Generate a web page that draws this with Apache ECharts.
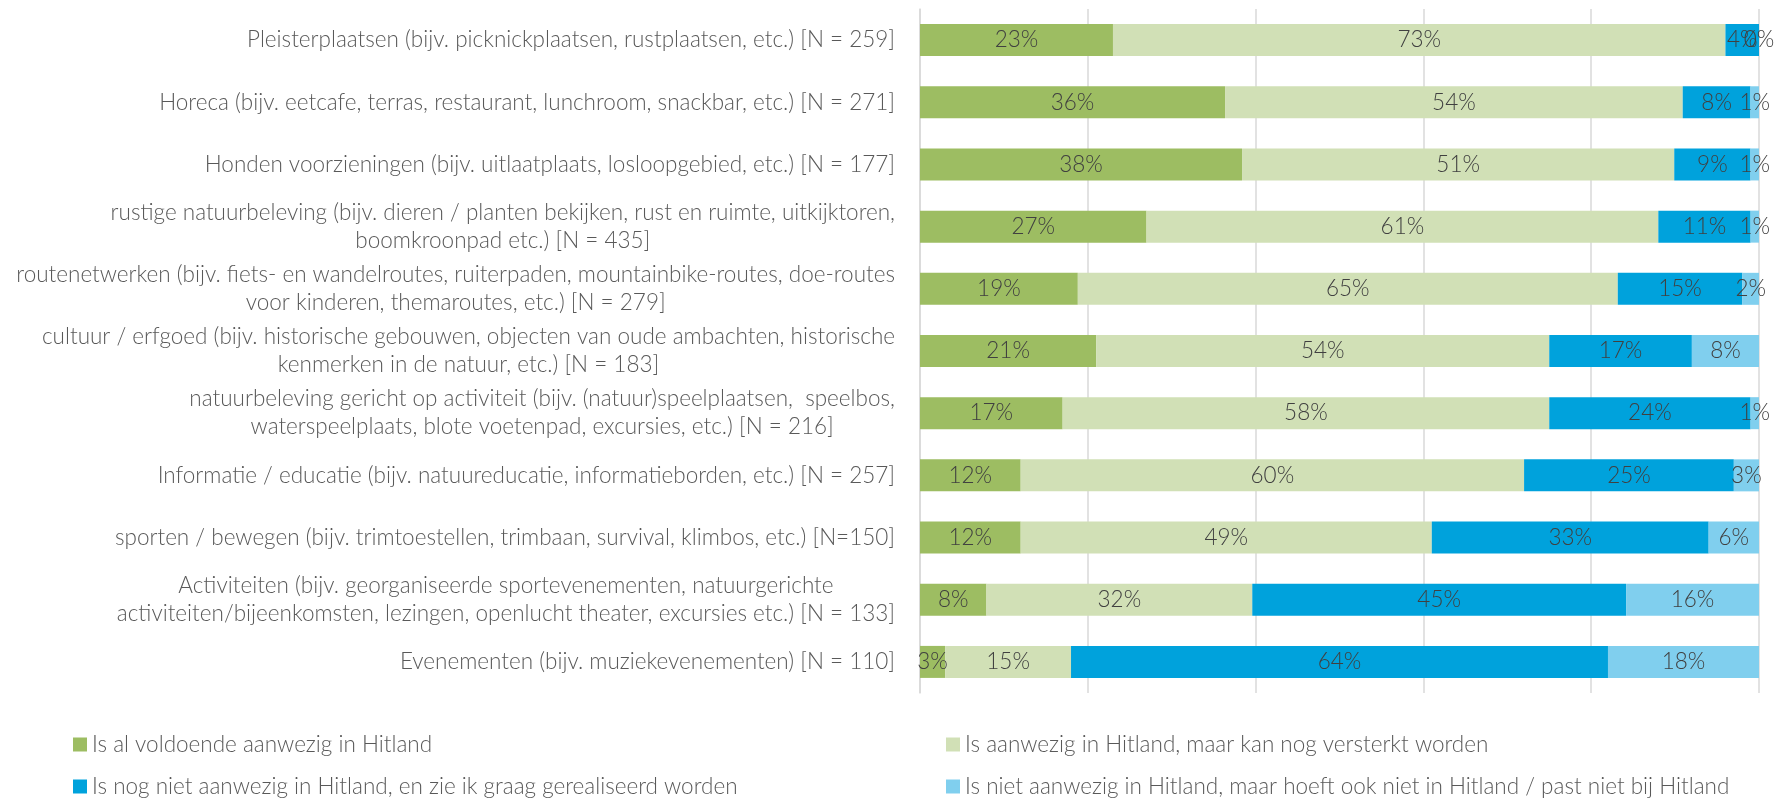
<!DOCTYPE html>
<html>
<head>
<meta charset="utf-8">
<script src="https://cdn.jsdelivr.net/npm/echarts@6/dist/echarts.min.js"></script>
<style>
  html, body { margin: 0; padding: 0; background: #fff; }
  #chart { width: 1776px; height: 800px; }
</style>
</head>
<body>
<div id="chart"></div>
<script>
const categories = [
    'Pleisterplaatsen (bijv. picknickplaatsen, rustplaatsen, etc.) [N = 259]',
    'Horeca (bijv. eetcafe, terras, restaurant, lunchroom, snackbar, etc.) [N = 271]',
    'Honden voorzieningen (bijv. uitlaatplaats, losloopgebied, etc.) [N = 177]',
    'rustige natuurbeleving (bijv. dieren / planten bekijken, rust en ruimte, uitkijktoren,\nboomkroonpad etc.) [N = 435]',
    'routenetwerken (bijv. fiets- en wandelroutes, ruiterpaden, mountainbike-routes, doe-routes\nvoor kinderen, themaroutes, etc.) [N = 279]',
    'cultuur / erfgoed (bijv. historische gebouwen, objecten van oude ambachten, historische\nkenmerken in de natuur, etc.) [N = 183]',
    'natuurbeleving gericht op activiteit (bijv. (natuur)speelplaatsen,  speelbos,\nwaterspeelplaats, blote voetenpad, excursies, etc.) [N = 216]',
    'Informatie / educatie (bijv. natuureducatie, informatieborden, etc.) [N = 257]',
    'sporten / bewegen (bijv. trimtoestellen, trimbaan, survival, klimbos, etc.) [N=150]',
    'Activiteiten (bijv. georganiseerde sportevenementen, natuurgerichte\nactiviteiten/bijeenkomsten, lezingen, openlucht theater, excursies etc.) [N = 133]',
    'Evenementen (bijv. muziekevenementen) [N = 110]'
];

const seriesNames = [
    'Is al voldoende aanwezig in Hitland',
    'Is aanwezig in Hitland, maar kan nog versterkt worden',
    'Is nog niet aanwezig in Hitland, en zie ik graag gerealiseerd worden',
    'Is niet aanwezig in Hitland, maar hoeft ook niet in Hitland / past niet bij Hitland'
];

// percentages as printed on the bars
const voldoende = [23, 36, 38, 27, 19, 21, 17, 12, 12, 8, 3];
const versterken = [73, 54, 51, 61, 65, 54, 58, 60, 49, 32, 15];
const graagGerealiseerd = [4, 8, 9, 11, 15, 17, 24, 25, 33, 45, 64];
const nietNodig = [0, 1, 1, 1, 2, 8, 1, 3, 6, 16, 18];

const colors = ['#9DBD62', '#D1E0B6', '#00A2DC', '#80CFEE'];

const raw = [voldoende, versterken, graagGerealiseerd, nietNodig];
// 100% stacked, like the original spreadsheet chart
const rowTotals = categories.map((c, i) => raw.reduce((s, arr) => s + arr[i], 0));

const FONT = 'Lato';
const FS = 22.5;

const chart = echarts.init(document.getElementById('chart'));

const series = raw.map((arr, si) => ({
    type: 'bar',
    name: seriesNames[si],
    stack: 'total',
    barWidth: 32,
    data: arr.map((v, i) => v / rowTotals[i] * 100),
    itemStyle: { color: colors[si] },
    label: {
        show: true,
        position: 'inside',
        color: '#404040',
        fontFamily: FONT,
        fontWeight: 300,
        fontSize: FS,
        formatter: p => raw[p.seriesIndex][p.dataIndex] + '%'
    },
    emphasis: { disabled: true }
}));

const legendPos = [
    { left: 68, top: 728 },
    { left: 941, top: 728 },
    { left: 68, top: 770 },
    { left: 941, top: 770 }
];

const option = {
    animation: false,
    grid: { left: 920, right: 17, top: 9, bottom: 107 },
    xAxis: {
        type: 'value',
        min: 0,
        max: 100,
        interval: 20,
        axisLabel: { show: false },
        axisLine: { show: false },
        axisTick: { show: false },
        splitLine: { lineStyle: { color: '#D9D9D9', width: 1.5 } }
    },
    yAxis: {
        type: 'category',
        inverse: true,
        data: categories,
        axisLine: { show: true, lineStyle: { color: '#D9D9D9', width: 1.5 } },
        axisTick: { show: false },
        axisLabel: {
            margin: 25,
            formatter: v => v.split('\n').map(l => '{c|' + l + '}').join('\n'),
            rich: {
                c: {
                    align: 'center',
                    fontFamily: FONT,
                    fontWeight: 300,
                    fontSize: FS,
                    lineHeight: 28,
                    color: '#595959'
                }
            }
        }
    },
    legend: seriesNames.map((n, i) => ({
        data: [n],
        left: legendPos[i].left,
        top: legendPos[i].top,
        icon: 'rect',
        itemWidth: 14,
        itemHeight: 14,
        itemGap: 0,
        selectedMode: false,
        textStyle: { fontFamily: FONT, fontWeight: 300, fontSize: FS, color: '#595959' }
    })),
    series: series
};

chart.setOption(option);
</script>
</body>
</html>
